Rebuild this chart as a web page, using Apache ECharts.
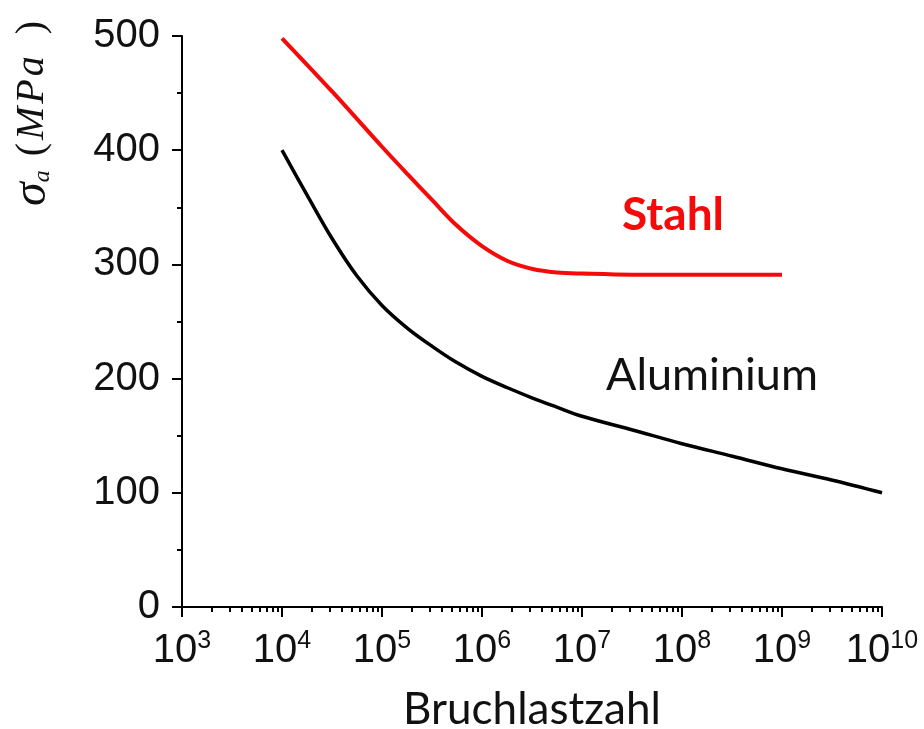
<!DOCTYPE html>
<html>
<head>
<meta charset="utf-8">
<script src="https://cdn.jsdelivr.net/npm/echarts@6/dist/echarts.min.js"></script>
<style>
  html, body { margin: 0; padding: 0; background: #fff; }
  #chart { width: 924px; height: 729px; }
</style>
</head>
<body>
<div id="chart"></div>
<script>
// Wöhler curves: stress amplitude vs. number of cycles to failure
const stahlCycles = [1e4, 3.2e4, 1e5, 1.8e5, 3.2e5, 5.6e5, 1e6, 1.8e6, 3.2e6, 5.6e6, 1e7, 3.2e7, 1e9];
const stahlStress = [498, 451, 403, 379, 356, 334, 316, 303, 296, 293, 292, 291, 291];

const aluCycles = [1e4, 1.8e4, 3.2e4, 5.6e4, 1e5, 1.8e5, 3.2e5, 5.6e5, 1e6, 1.8e6, 3.2e6, 5.6e6, 1e7, 3.2e7, 1e8, 3.2e8, 1e9, 3.2e9, 1e10];
const aluStress = [400, 360, 322, 290, 264, 244, 228, 214, 202, 192, 183, 175, 167, 155, 143, 132, 121, 111, 100];

// x-axis decades (labelled) and in-between ticks (2..9 per decade)
const decadeTicks = [1e3, 1e4, 1e5, 1e6, 1e7, 1e8, 1e9, 1e10];
const minorTicks = [];
for (let i = 0; i < decadeTicks.length - 1; i++) {
  for (let k = 2; k <= 9; k++) minorTicks.push(k * decadeTicks[i]);
}
const yTicks = [0, 100, 200, 300, 400, 500];

const toPairs = (xs, ys) => xs.map((x, i) => [x, ys[i]]);

const chart = echarts.init(document.getElementById('chart'), null, { renderer: 'canvas' });

const axisColor = '#000';
const numFont = '"Liberation Sans", Arial, sans-serif';
const textFont = 'Lato, "Open Sans", sans-serif';
const serif = '"Liberation Serif", "Times New Roman", serif';

chart.setOption({
  animation: false,
  backgroundColor: '#fff',
  grid: { left: 182, right: 42, top: 36, bottom: 122, containLabel: false, outerBoundsMode: 'none' },
  xAxis: [
    {
      type: 'log',
      logBase: 10,
      min: 1e3,
      max: 1e10,
      position: 'bottom',
      name: 'Bruchlastzahl',
      nameLocation: 'middle',
      nameGap: 81,
      nameTextStyle: { fontFamily: textFont, fontSize: 44, color: '#111' },
      axisLine: { show: true, onZero: false, lineStyle: { color: axisColor, width: 2 } },
      axisTick: { show: true, inside: false, length: 10, customValues: decadeTicks, lineStyle: { color: axisColor, width: 2 } },
      minorTick: { show: false },
      splitLine: { show: false },
      axisLabel: {
        show: true,
        margin: 22,
        customValues: decadeTicks,
        formatter: function (v) {
          const e = Math.round(Math.log10(v));
          return '{b|10}{s|' + e + '}';
        },
        rich: {
          b: { fontFamily: numFont, fontSize: 40, lineHeight: 42, color: '#111', verticalAlign: 'bottom' },
          s: { fontFamily: numFont, fontSize: 25, lineHeight: 20, color: '#111', verticalAlign: 'top' }
        }
      }
    },
    {
      type: 'log',
      logBase: 10,
      min: 1e3,
      max: 1e10,
      position: 'bottom',
      axisLine: { show: false },
      axisTick: { show: true, inside: false, length: 5, customValues: minorTicks, lineStyle: { color: axisColor, width: 2 } },
      axisLabel: { show: false },
      splitLine: { show: false }
    }
  ],
  yAxis: {
    type: 'value',
    min: 0,
    max: 500,
    interval: 100,
    axisLine: { show: true, onZero: false, lineStyle: { color: axisColor, width: 2 } },
    axisTick: { show: true, inside: false, length: 10, lineStyle: { color: axisColor, width: 2 } },
    minorTick: { show: true, splitNumber: 2, length: 5, lineStyle: { color: axisColor, width: 2 } },
    splitLine: { show: false },
    axisLabel: {
      margin: 22,
      fontFamily: numFont,
      fontSize: 40,
      color: '#111',
      customValues: yTicks
    }
  },
  series: [
    {
      name: 'Stahl',
      type: 'line',
      xAxisIndex: 0,
      data: toPairs(stahlCycles, stahlStress),
      showSymbol: false,
      smooth: 0.35,
      lineStyle: { color: '#f50a0a', width: 4 },
      itemStyle: { color: '#f50a0a' },
      z: 3
    },
    {
      name: 'Aluminium',
      type: 'line',
      xAxisIndex: 0,
      data: toPairs(aluCycles, aluStress),
      showSymbol: false,
      smooth: 0.35,
      lineStyle: { color: '#000', width: 3.5 },
      itemStyle: { color: '#000' },
      z: 2
    }
  ],
  graphic: [
    {
      type: 'text',
      left: 622,
      top: 192,
      style: {
        text: 'Stahl',
        fontFamily: textFont,
        fontWeight: 'bold',
        fontSize: 46,
        fill: '#f50a0a'
      }
    },
    {
      type: 'text',
      left: 606,
      top: 353,
      style: {
        text: 'Aluminium',
        fontFamily: textFont,
        fontSize: 45,
        fill: '#111'
      }
    },
    {
      // y-axis title, rotated to read bottom-to-top
      type: 'text',
      x: 9,
      y: 206,
      rotation: Math.PI / 2,
      style: {
        text: '{sig|σ}{sub|a}{lp|(}{m|M}{p|P}{g|a}{rp|)}',
        rich: {
          sig: { fontFamily: serif, fontStyle: 'italic', fontSize: 48, fill: '#111', lineHeight: 46 },
          sub: { fontFamily: serif, fontStyle: 'italic', fontSize: 24, fill: '#111', lineHeight: 10, verticalAlign: 'bottom' },
          lp: { fontFamily: serif, fontSize: 40, fill: '#111', lineHeight: 46, padding: [0, 3, 0, 14] },
          m: { fontFamily: serif, fontStyle: 'italic', fontSize: 40, fill: '#111', lineHeight: 46, padding: [0, 3, 0, 0] },
          p: { fontFamily: serif, fontStyle: 'italic', fontSize: 40, fill: '#111', lineHeight: 46, padding: [0, 3, 0, 0] },
          g: { fontFamily: serif, fontStyle: 'italic', fontSize: 40, fill: '#111', lineHeight: 46 },
          rp: { fontFamily: serif, fontSize: 40, fill: '#111', lineHeight: 46, padding: [0, 0, 0, 22] }
        }
      }
    }
  ]
});
</script>
</body>
</html>
